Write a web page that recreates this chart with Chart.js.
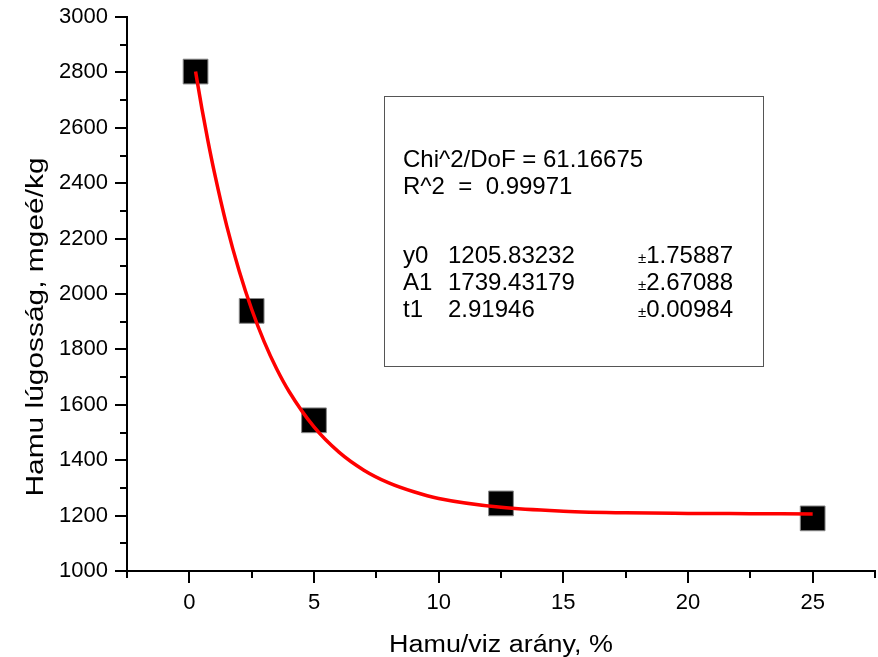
<!DOCTYPE html>
<html>
<head>
<meta charset="utf-8">
<script src="https://cdn.jsdelivr.net/npm/chart.js@4"></script>
<style>
  html, body { margin: 0; padding: 0; background: #fff; }
  canvas { display: block; }
</style>
</head>
<body>
<canvas id="chart" width="878" height="657"></canvas>
<script>
// Measured points: ash/water ratio (%) vs ash alkalinity
const ratioX = [0.25, 2.5, 5, 12.5, 25];
const alkalinity = [2803, 1939, 1544, 1244, 1190];

// Red fitted curve
const fitX = [0.25, 0.5, 0.75, 1, 1.5, 2, 2.5, 3, 3.5, 4, 5, 6, 7, 8, 9, 10, 12.5, 15, 17.5, 20, 22.5, 25];
const fitY = [2803, 2671, 2551, 2441, 2246, 2083, 1945, 1828, 1730, 1648, 1520, 1429, 1364, 1318, 1286, 1262, 1230, 1216, 1210, 1208, 1207, 1206];

const xTitle = 'Hamu/viz arány, %';
const yTitle = 'Hamu lúgosság, mgeé/kg';

// Fit summary box
const fitStats = ['Chi^2/DoF = 61.16675', 'R^2  =  0.99971'];
const paramNames = ['y0', 'A1', 't1'];
const paramValues = ['1205.83232', '1739.43179', '2.91946'];
const paramErrors = ['1.75887', '2.67088', '0.00984'];

const FONT = "'Liberation Sans', Arial, sans-serif";

// Origin style ticks: long on labelled values, short in between
const axisTicks = {
  id: 'axisTicks',
  afterDraw(chart) {
    const { ctx, chartArea: a, scales: { x, y } } = chart;
    ctx.save();
    ctx.strokeStyle = '#000';
    ctx.lineWidth = 2;
    ctx.beginPath();
    x.ticks.forEach(t => {
      const px = Math.round(x.getPixelForValue(t.value));
      const len = t.value % 5 === 0 ? 12 : 7;
      ctx.moveTo(px, a.bottom);
      ctx.lineTo(px, a.bottom + len);
    });
    y.ticks.forEach(t => {
      const py = Math.round(y.getPixelForValue(t.value));
      const len = t.value % 200 === 0 ? 12 : 7;
      ctx.moveTo(a.left, py);
      ctx.lineTo(a.left - len, py);
    });
    ctx.stroke();
    ctx.restore();
  }
};

// text a bit wider than the font, like the Origin export
function wideText(ctx, text, x, y, angle, stretch) {
  ctx.save();
  ctx.translate(x, y);
  ctx.rotate(angle);
  ctx.scale(stretch, 1);
  ctx.fillText(text, 0, 0);
  ctx.restore();
}

// axis titles and the fit parameter box
const labels = {
  id: 'labels',
  afterDraw(chart) {
    const { ctx, chartArea: a } = chart;
    ctx.save();
    ctx.fillStyle = '#000';
    ctx.font = '23px ' + FONT;
    ctx.textAlign = 'center';
    ctx.textBaseline = 'alphabetic';
    wideText(ctx, xTitle, (a.left + a.right) / 2, a.bottom + 81, 0, 1.17);
    wideText(ctx, yTitle, a.left - 84, a.top + 310, -Math.PI / 2, 1.3);

    // box
    const bx = a.left + 257, by = a.top + 79, bw = 379, bh = 270;
    ctx.strokeStyle = '#555';
    ctx.lineWidth = 1;
    ctx.strokeRect(bx + 0.5, by + 0.5, bw, bh);

    ctx.textAlign = 'left';
    const big = '24px ' + FONT;
    ctx.font = big;
    const tx = bx + 19;
    fitStats.forEach((s, i) => ctx.fillText(s, tx, by + 71 + i * 27));
    paramNames.forEach((n, i) => {
      const yy = by + 167 + i * 27;
      ctx.font = big;
      ctx.fillText(n, tx, yy);
      ctx.fillText(paramValues[i], tx + 45, yy);
      ctx.font = '15px ' + FONT;
      ctx.fillText('±', tx + 235, yy);
      const w = ctx.measureText('±').width;
      ctx.font = big;
      ctx.fillText(paramErrors[i], tx + 235 + w, yy);
    });
    ctx.restore();
  }
};

const ctx = document.getElementById('chart').getContext('2d');
new Chart(ctx, {
  type: 'scatter',
  data: {
    datasets: [{
      label: 'fit',
      data: fitX.map((v, i) => ({ x: v, y: fitY[i] })),
      showLine: true,
      borderColor: '#ff0000',
      borderWidth: 3.5,
      pointRadius: 0,
      cubicInterpolationMode: 'monotone',
      fill: false
    }, {
      label: 'data',
      data: ratioX.map((v, i) => ({ x: v, y: alkalinity[i] })),
      pointStyle: 'rect',
      pointRadius: 17.5,
      backgroundColor: '#000',
      borderColor: '#888',
      borderWidth: 1
    }]
  },
  options: {
    responsive: false,
    animation: false,
    layout: { autoPadding: false, padding: { top: 17, right: 3, left: 0, bottom: 0 } },
    plugins: { legend: { display: false }, tooltip: { enabled: false } },
    scales: {
      x: {
        type: 'linear',
        min: -2.5,
        max: 27.5,
        afterFit: s => { s.height = 86; s.paddingLeft = 0; s.paddingRight = 0; },
        grid: { display: false, drawTicks: false },
        border: { display: true, color: '#000', width: 2 },
        ticks: {
          stepSize: 2.5,
          autoSkip: false,
          maxRotation: 0,
          padding: 19,
          color: '#000',
          font: { family: FONT, size: 22 },
          callback: v => (v % 5 === 0 ? v : '')
        }
      },
      y: {
        min: 1000,
        max: 3000,
        afterFit: s => { s.width = 127; s.paddingTop = 0; s.paddingBottom = 0; },
        grid: { display: false, drawTicks: false },
        border: { display: true, color: '#000', width: 2 },
        ticks: {
          stepSize: 100,
          autoSkip: false,
          padding: 19,
          color: '#000',
          font: { family: FONT, size: 22 },
          callback: v => (v % 200 === 0 ? v : '')
        }
      }
    }
  },
  plugins: [axisTicks, labels]
});
</script>
</body>
</html>
